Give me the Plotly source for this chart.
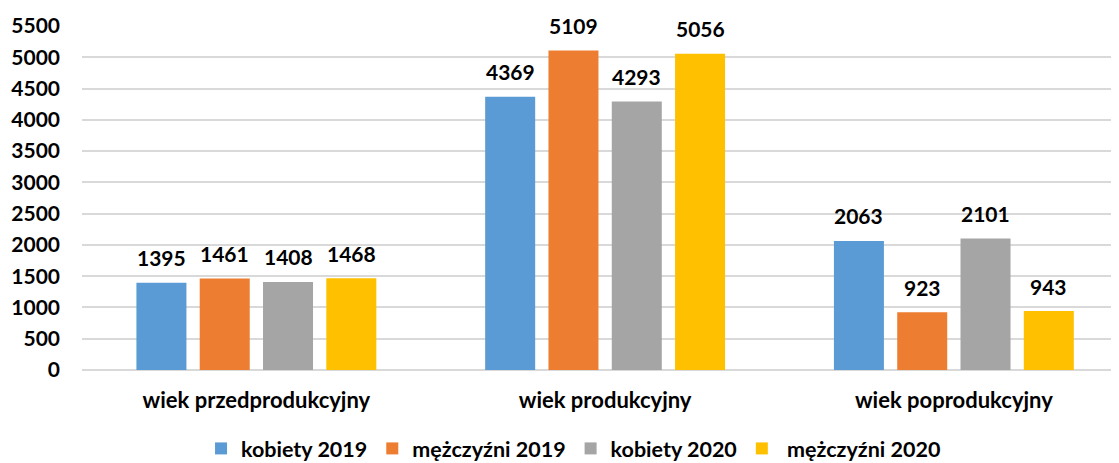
import plotly.graph_objects as go

categories = ["wiek przedprodukcyjny", "wiek produkcyjny", "wiek poprodukcyjny"]
series_names = ["kobiety 2019", "mężczyźni 2019", "kobiety 2020", " mężczyźni 2020"]
kobiety_2019 = [1395, 4369, 2063]
mezczyzni_2019 = [1461, 5109, 923]
kobiety_2020 = [1408, 4293, 2101]
mezczyzni_2020 = [1468, 5056, 943]
y_ticks = list(range(0, 5501, 500))

series_values = [kobiety_2019, mezczyzni_2019, kobiety_2020, mezczyzni_2020]
colors = ["#5B9BD5", "#ED7D31", "#A5A5A5", "#FFC000"]

FONT = "Lato"
bargap = 0.274
bargroupgap = 0.21

fig = go.Figure()
for name, vals, col in zip(series_names, series_values, colors):
    fig.add_trace(go.Bar(
        x=list(range(len(categories))), y=vals, name=name,
        marker=dict(color=col, line=dict(width=0)),
    ))

# data labels as annotations above each bar
n = len(series_values)
slot = (1 - bargap) / n
annotations = []
for i, vals in enumerate(series_values):
    off = (i - (n - 1) / 2) * slot
    for j, v in enumerate(vals):
        annotations.append(dict(
            x=j + off, y=v, xref="x", yref="y", text=str(v),
            showarrow=False, yanchor="middle", yshift=25,
            font=dict(family=FONT, size=21, color="#000000", weight="bold"),
        ))

# the page body has an 8px margin, so the figure is 8px smaller and shifted
fig.update_layout(
    width=1111, height=455,
    margin=dict(l=74, r=0, t=18, b=93, autoexpand=False),
    paper_bgcolor="white", plot_bgcolor="white",
    barmode="group", bargap=bargap, bargroupgap=bargroupgap,
    font=dict(family=FONT, size=21, color="#000000", weight="bold"),
    annotations=annotations,
    legend=dict(
        orientation="h", x=0.474, xanchor="center", xref="paper",
        y=-0.228, yanchor="middle",
        font=dict(family=FONT, size=21.5, color="#000000", weight="bold"),
        traceorder="normal", itemwidth=30,
    ),
    xaxis=dict(
        tickmode="array", tickvals=list(range(len(categories))), ticktext=categories,
        range=[-0.5, 2.4735], showgrid=False, zeroline=False, showline=False,
        ticks="", ticklabelstandoff=15, automargin=False,
        tickfont=dict(family=FONT, size=22, color="#000000", weight="bold"),
    ),
    yaxis=dict(
        range=[0, 5500], tickmode="array", tickvals=y_ticks,
        showgrid=True, gridcolor="#D9D9D9", gridwidth=1.5,
        zeroline=True, zerolinecolor="#D9D9D9", zerolinewidth=1.5,
        showline=False, ticks="", ticklabelstandoff=21, automargin=False,
        tickfont=dict(family=FONT, size=21, color="#000000", weight="bold"),
    ),
)

fig.write_html("out.html")
